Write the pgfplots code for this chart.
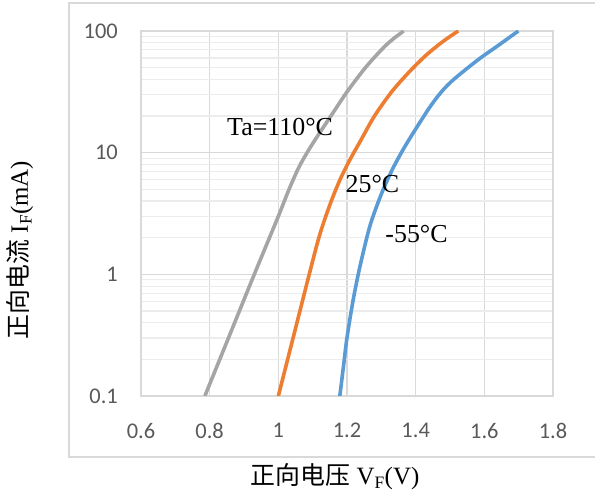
\documentclass[border=0pt]{standalone}
\usepackage{fontspec}
\setmainfont{Liberation Serif}
\newfontfamily\cjk{Noto Sans CJK SC}
\newfontfamily\tickfont{Carlito}
\usepackage{pgfplots}
\pgfplotsset{compat=1.18}
\definecolor{gridmaj}{HTML}{D9D9D9}
\definecolor{gridmin}{HTML}{ECECEC}
\definecolor{tickgray}{HTML}{595959}
\definecolor{c110}{HTML}{A5A5A5}
\definecolor{c25}{HTML}{ED7D31}
\definecolor{cm55}{HTML}{5B9BD5}

\begin{document}
\begin{tikzpicture}[x=1bp,y=1bp]
\path[use as bounding box] (0,0) rectangle (595,495);
\draw[gridmaj, line width=1.2bp] (69,38) rectangle (640,492);
\begin{axis}[
  at={(141bp,99bp)}, anchor=south west, scale only axis,
  width=412bp, height=365bp,
  ymode=log, xmin=0.6, xmax=1.8, ymin=0.1, ymax=100,
  xtick={0.6,0.8,1,1.2,1.4,1.6,1.8},
  xticklabels={0.6,0.8,1,1.2,1.4,1.6,1.8},
  ytick={0.1,1,10,100}, yticklabels={0.1,1,10,100},
  minor ytick={0.2,0.3,0.4,0.5,0.6,0.7,0.8,0.9,2,3,4,5,6,7,8,9,20,30,40,50,60,70,80,90},
  grid=both,
  major grid style={gridmaj, line width=1.2bp},
  minor grid style={gridmin, line width=1.2bp},
  axis line style={gridmaj, line width=1.2bp},
  major tick length=0pt, minor tick length=0pt,
  tick style={draw=none},
  /pgf/number format/assume math mode=true,
  ticklabel style={font=\tickfont\fontsize{22.5}{24}\selectfont, text=tickgray, inner sep=0pt},
  xticklabel style={anchor=north, yshift=-27bp},
  yticklabel style={anchor=east, xshift=-23bp},
  clip=true,
]
% Ta = 110 C  (I_F in mA)
\addplot[c110, line width=3.6bp, smooth, tension=0.5] coordinates {
(0.786,0.1) (0.858,0.316) (0.930,1.0) (1.0,3.0) (1.03,4.9) (1.06,7.6)
(1.09,10.7) (1.12,14.5) (1.16,21.4) (1.20,31.6) (1.257,51.3) (1.316,77.6) (1.365,100)
};
% Ta = 25 C
\addplot[c25, line width=3.6bp, smooth, tension=0.5] coordinates {
(1.0,0.1) (1.045,0.316) (1.09,1.0) (1.12,2.09) (1.15,3.72) (1.18,6.03)
(1.21,8.91) (1.24,12.6) (1.28,20.0) (1.33,31.6) (1.38,45.7) (1.43,63.1)
(1.48,82.2) (1.524,100)
};
% Ta = -55 C
\addplot[cm55, line width=3.6bp, smooth, tension=0.5] coordinates {
(1.179,0.1) (1.19,0.178) (1.20,0.302) (1.218,0.617) (1.238,1.17) (1.267,2.51)
(1.30,4.57) (1.33,7.08) (1.36,10.2) (1.39,14.1) (1.44,23.4) (1.475,31.6) (1.51,39.8)
(1.58,57.5) (1.64,75.9) (1.699,100)
};
\node[font=\fontsize{26}{28}\selectfont] at (axis cs:1.005,16.4) {Ta=110°C};
\node[font=\fontsize{26}{28}\selectfont] at (axis cs:1.274,5.49) {25°C};
\node[font=\fontsize{26}{28}\selectfont] at (axis cs:1.4025,2.13) {-55°C};
\end{axis}
\node[font=\fontsize{25}{28}\selectfont] at (335,18) {{\cjk 正向电压} V\textsubscript{F}(V)};
\node[font=\fontsize{25}{28}\selectfont, rotate=90] at (20,245) {{\cjk 正向电流} I\textsubscript{F}(mA)};
\end{tikzpicture}
\end{document}
